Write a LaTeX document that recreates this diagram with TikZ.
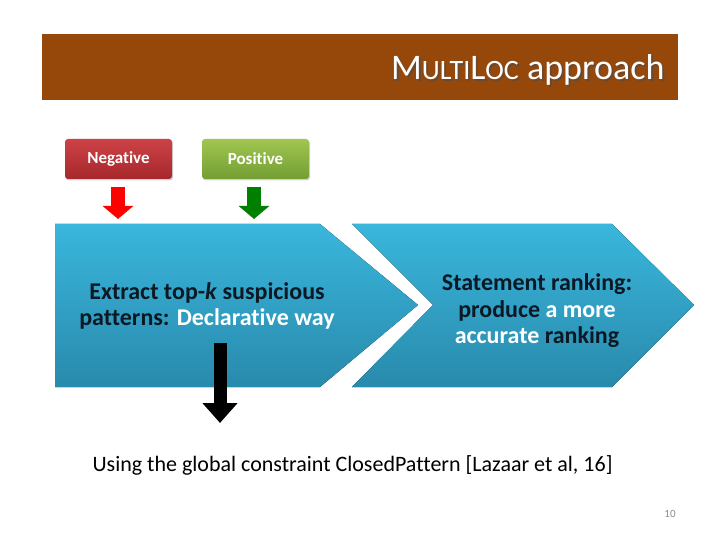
\documentclass[tikz,border=0pt]{standalone}
\usepackage{fontspec}
\setmainfont{Carlito}[Ligatures=NoCommon]
\usetikzlibrary{arrows.meta,shadows}
\definecolor{titlebg}{RGB}{150,72,10}
\definecolor{chevtop}{RGB}{58,182,220}
\definecolor{chevbot}{RGB}{40,138,172}
\definecolor{negtop}{RGB}{204,66,70}
\definecolor{negbot}{RGB}{166,40,44}
\definecolor{postop}{RGB}{160,198,80}
\definecolor{posbot}{RGB}{116,158,52}
\definecolor{darktxt}{RGB}{12,24,36}
\definecolor{pagenum}{RGB}{140,140,140}
\tikzset{
  lbl/.style={rounded corners=3pt, minimum width=107pt, minimum height=40pt, text=white,
    font=\fontsize{17}{20}\selectfont\bfseries, drop shadow={opacity=0.35,shadow xshift=1pt,shadow yshift=-1.5pt}},
  chev/.style={top color=chevtop, bottom color=chevbot, draw=none},
  chevtext/.style={align=center, text=darktxt, font=\fontsize{24}{26.5}\selectfont\bfseries},
  blockarrow/.style={line width=#1, line cap=butt},
}
\begin{document}
\begin{tikzpicture}[x=1pt,y=-1pt]
\useasboundingbox (0,0) rectangle (720,540);
\fill[white] (0,0) rectangle (720,540);
% title bar
\fill[titlebg] (42,34) rectangle (678,100);
\node[anchor=base east, text=black!70, opacity=0.6, font=\fontsize{36}{40}\selectfont] at (670,82)
  {M{\fontsize{28}{30}\selectfont ULTI}L{\fontsize{28}{30}\selectfont OC} approach};
\node[anchor=base east, text=white, font=\fontsize{36}{40}\selectfont] (title) at (668,80)
  {M{\fontsize{28}{30}\selectfont ULTI}L{\fontsize{28}{30}\selectfont OC} approach};
% label boxes
\node[lbl, top color=negtop, bottom color=negbot] (neg) at (118.5,159) {Negative};
\node[lbl, top color=postop, bottom color=posbot] (pos) at (255.5,159) {Positive};
% chevrons
\fill[chev] (55,224) -- (320,224) -- (418,305) -- (320,387) -- (55,387) -- cycle;
\fill[chev] (352,224) -- (612,224) -- (694,305) -- (612,387) -- (352,387) -- (433,305) -- cycle;
\node[chevtext] (t1) at (207,306) {Extract top-\textit{k} suspicious\\patterns: \textcolor{white}{Declarative way}};
\node[chevtext] (t2) at (537,311) {Statement ranking:\\produce \textcolor{white}{a more}\\\textcolor{white}{accurate} ranking};
% arrows
\draw[blockarrow=14pt, red, -{Triangle[width=30pt,length=13pt]}] (118,187) -- (118,219);
\draw[blockarrow=14pt, green!50!black, -{Triangle[width=30pt,length=13pt]}] (254,187) -- (254,219);
\node[font=\fontsize{22}{26}\selectfont, anchor=base west] (bottom) at (89,471)
  {Using the global constraint ClosedPattern [Lazaar et al, 16]};
\coordinate (bk1) at (220,343);
\draw[blockarrow=13pt, black, -{Triangle[width=34pt,length=20pt]}] (bk1) -- (220,423);
\node[font=\fontsize{11}{13}\selectfont, text=pagenum] (pg) at (670,514) {10};
\end{tikzpicture}
\end{document}
